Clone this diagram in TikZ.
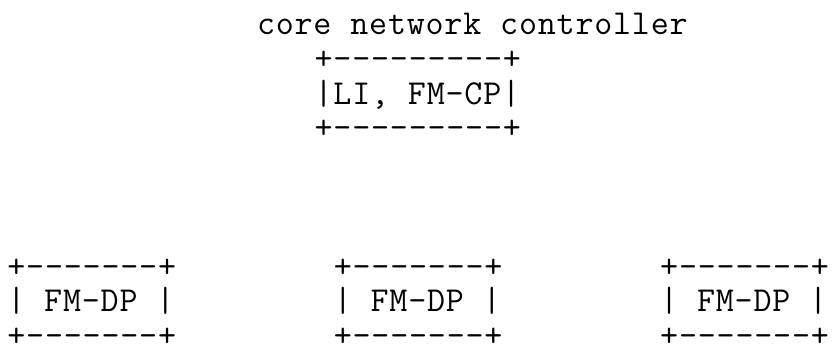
\documentclass[tikz,border=0pt]{standalone}
\usepackage{fontspec}
\setmonofont{Latin Modern Mono}[LetterSpace=2.3]
\begin{document}
\begin{tikzpicture}[x=1pt,y=1pt,
  ascii/.style={anchor=base west, inner sep=0pt, outer sep=0pt,
    font=\fontsize{35}{34.6}\selectfont\ttfamily}]
\useasboundingbox (0,0) rectangle (832,-345);
% column x = 7.4 + 19.2 c ; row y = -(35 + 34.6 r)
\node[ascii] (title) at (257.0,-35.0) {core network controller};
\node[ascii] (ctop) at (314.6,-69.6) {+---------+};
\node[ascii] (cmid) at (314.6,-104.2) {|LI, FM-CP|};
\node[ascii] (cbot) at (314.6,-138.8) {+---------+};
% data plane boxes
\node[ascii] (atop) at (7.4,-277.2) {+-------+};
\node[ascii] (amid) at (7.4,-311.8) {| FM-DP |};
\node[ascii] (abot) at (7.4,-346.4) {+-------+};
\node[ascii] (btop) at (333.8,-277.2) {+-------+};
\node[ascii] (bmid) at (333.8,-311.8) {| FM-DP |};
\node[ascii] (bbot) at (333.8,-346.4) {+-------+};
\node[ascii] (ctop2) at (660.2,-277.2) {+-------+};
\node[ascii] (cmid2) at (660.2,-311.8) {| FM-DP |};
\node[ascii] (cbot2) at (660.2,-346.4) {+-------+};
\end{tikzpicture}
\end{document}
